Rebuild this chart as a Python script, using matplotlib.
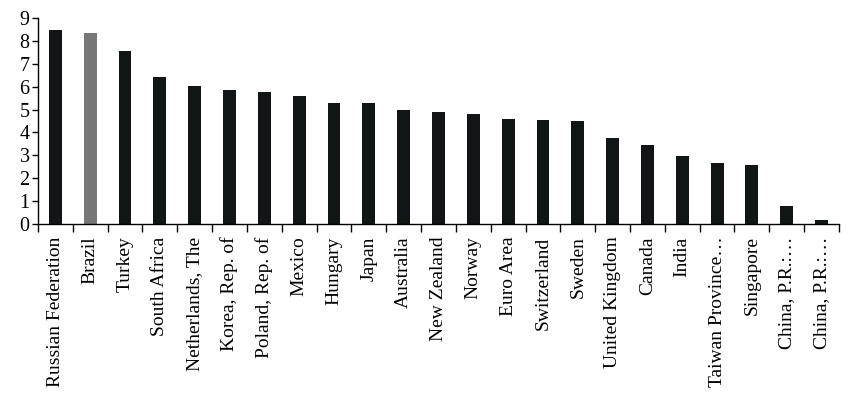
import matplotlib
matplotlib.use("Agg")
import matplotlib.pyplot as plt

countries = [
    "Russian Federation", "Brazil", "Turkey", "South Africa", "Netherlands, The",
    "Korea, Rep. of", "Poland, Rep. of", "Mexico", "Hungary", "Japan",
    "Australia", "New Zealand", "Norway", "Euro Area", "Switzerland", "Sweden",
    "United Kingdom", "Canada", "India", "Taiwan Province\u2026", "Singapore",
    "China, P.R.:\u2026", "China, P.R.:\u2026"
]
values = [
    8.47, 8.34, 7.55, 6.42, 6.03, 5.87, 5.76, 5.59, 5.29, 5.28,
    4.97, 4.89, 4.80, 4.57, 4.53, 4.50, 3.74, 3.45, 2.95, 2.66,
    2.57, 0.77, 0.19
]
highlight = "Brazil"

plt.rcParams['font.family'] = ['Liberation Serif', 'DejaVu Serif']

fig = plt.figure(figsize=(8.5, 4.08), dpi=100)
ax = fig.add_axes([0.0447, 0.451, 0.9423, 0.505])

colors = ["#777777" if c == highlight else "#121515" for c in countries]
x = list(range(len(countries)))
ax.bar(x, values, width=0.37, color=colors)

ax.set_xlim(-0.5, len(countries) - 0.5)
ax.set_ylim(0, 9)
ax.set_yticks(range(0, 10))
ax.tick_params(axis='y', labelsize=14.5, length=4, width=1, pad=2)

# category labels centred on bars, tick marks between categories
ax.set_xticks(x)
ax.set_xticklabels(countries, rotation=90, fontsize=14)
ax.tick_params(axis='x', which='major', length=0, pad=9)
ax.set_xticks([i - 0.5 for i in range(len(countries) + 1)], minor=True)
ax.tick_params(axis='x', which='minor', length=6, width=1, direction='out')

for side in ('top', 'right'):
    ax.spines[side].set_visible(False)
ax.spines['left'].set_linewidth(1)
ax.spines['bottom'].set_linewidth(1)

fig.savefig("out.png", dpi=100)
